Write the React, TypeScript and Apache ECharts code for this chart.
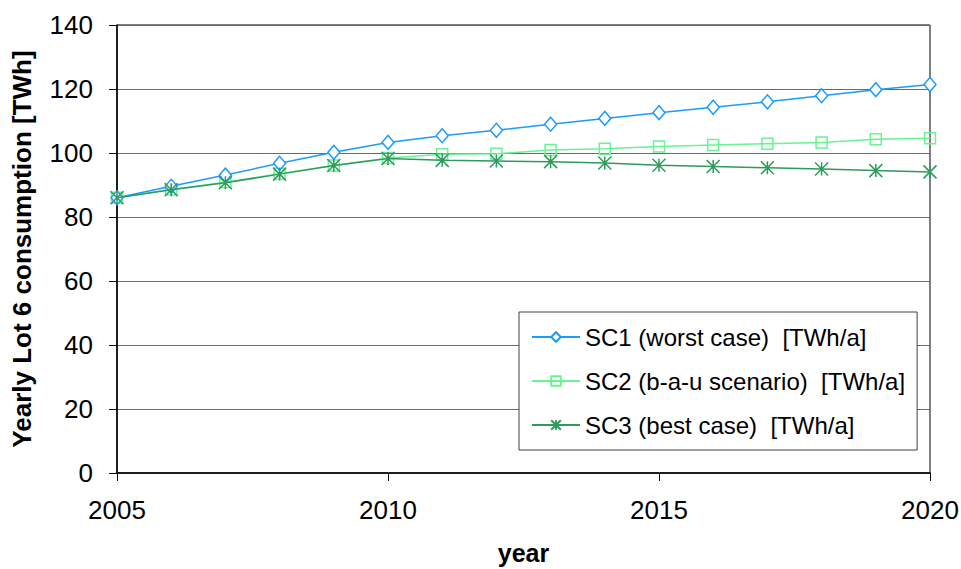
import React, { useEffect, useRef } from "react";
import * as echarts from "echarts";

const years = [2005, 2006, 2007, 2008, 2009, 2010, 2011, 2012, 2013, 2014, 2015, 2016, 2017, 2018, 2019, 2020];
const sc1 = [86.0, 89.6, 93.1, 96.8, 100.2, 103.3, 105.4, 107.1, 109.0, 110.8, 112.6, 114.3, 116.0, 117.9, 119.8, 121.4];
const sc2 = [86.0, 88.6, 90.9, 93.5, 96.1, 98.4, 99.6, 99.8, 100.9, 101.3, 102.0, 102.5, 102.9, 103.3, 104.3, 104.6];
const sc3 = [86.0, 88.5, 90.7, 93.4, 96.1, 98.3, 97.7, 97.5, 97.3, 96.9, 96.2, 95.8, 95.4, 95.0, 94.5, 94.1];
const seriesNames = [
  "SC1 (worst case)  [TWh/a]",
  "SC2 (b-a-u scenario)  [TWh/a]",
  "SC3 (best case)  [TWh/a]",
];
const xTitle = "year";
const yTitle = "Yearly Lot 6 consumption [TWh]";

const FONT = "'Liberation Sans', Arial, Helvetica, sans-serif";
const STAR = "path://M0,-1L0,1M-1,-1L1,1M-1,1L1,-1";

export default function App() {
  const ref = useRef<HTMLDivElement>(null);
  useEffect(() => {
    if (!ref.current) return;
    const chart = echarts.init(ref.current, undefined, { renderer: "svg" });
    const pair = (vals: number[]) => years.map((y, i) => [y, vals[i]]);
    chart.setOption({
      animation: false,
      backgroundColor: "#ffffff",
      textStyle: { fontFamily: FONT },
      grid: {
        left: 117,
        right: 31,
        top: 25,
        bottom: 96,
        show: true,
        borderColor: "#000000",
        borderWidth: 1,
        backgroundColor: "transparent",
        containLabel: false,
        outerBoundsMode: "none",
      },
      legend: {
        orient: "vertical",
        left: 519,
        top: 312,
        padding: [13, 12, 13, 12],
        itemGap: 20,
        itemWidth: 48,
        itemHeight: 12,
        backgroundColor: "#ffffff",
        borderColor: "#404040",
        borderWidth: 1,
        textStyle: { fontFamily: FONT, fontSize: 24, color: "#000000" },
        data: seriesNames,
      },
      xAxis: {
        type: "value",
        min: 2005,
        max: 2020,
        interval: 5,
        name: xTitle,
        nameLocation: "middle",
        nameGap: 67,
        nameTextStyle: { fontFamily: FONT, fontSize: 25, fontWeight: "bold", color: "#000" },
        axisLine: { lineStyle: { color: "#000", width: 1.5 } },
        axisTick: { show: true, length: 8, lineStyle: { color: "#000" } },
        axisLabel: {
          fontFamily: FONT,
          fontSize: 26,
          color: "#000",
          margin: 24,
          formatter: (v: number) => String(v),
        },
        splitLine: { show: false },
      },
      yAxis: {
        type: "value",
        min: 0,
        max: 140,
        interval: 20,
        name: yTitle,
        nameLocation: "middle",
        nameGap: 82,
        nameTextStyle: { fontFamily: FONT, fontSize: 26, fontWeight: "bold", color: "#000" },
        axisLine: { show: true, lineStyle: { color: "#000", width: 1.5 } },
        axisTick: { show: true, length: 8, lineStyle: { color: "#000" } },
        axisLabel: { fontFamily: FONT, fontSize: 26, color: "#000", margin: 24 },
        splitLine: { show: true, lineStyle: { color: "#6a6a6a", width: 1 } },
      },
      series: [
        {
          name: seriesNames[0],
          type: "line",
          data: pair(sc1),
          symbol: "diamond",
          symbolSize: [12, 14],
          itemStyle: { color: "#ffffff", borderColor: "#1a9bff", borderWidth: 1.5 },
          lineStyle: { color: "#1a9bff", width: 1.5 },
          z: 3,
        },
        {
          name: seriesNames[1],
          type: "line",
          data: pair(sc2),
          symbol: "rect",
          symbolSize: 11,
          itemStyle: { color: "rgba(0,0,0,0)", borderColor: "#66f592", borderWidth: 1.5 },
          lineStyle: { color: "#66f592", width: 1.5 },
          z: 2,
        },
        {
          name: seriesNames[2],
          type: "line",
          data: pair(sc3),
          symbol: STAR,
          symbolSize: 13,
          itemStyle: { color: "rgba(0,0,0,0)", borderColor: "#2e9a5c", borderWidth: 1.5 },
          lineStyle: { color: "#2e9a5c", width: 1.5 },
          z: 4,
        },
      ],
    });
    return () => chart.dispose();
  }, []);
  return (
    <div
      ref={ref}
      style={{ position: "fixed", left: 0, top: 0, width: 961, height: 569 }}
    />
  );
}
